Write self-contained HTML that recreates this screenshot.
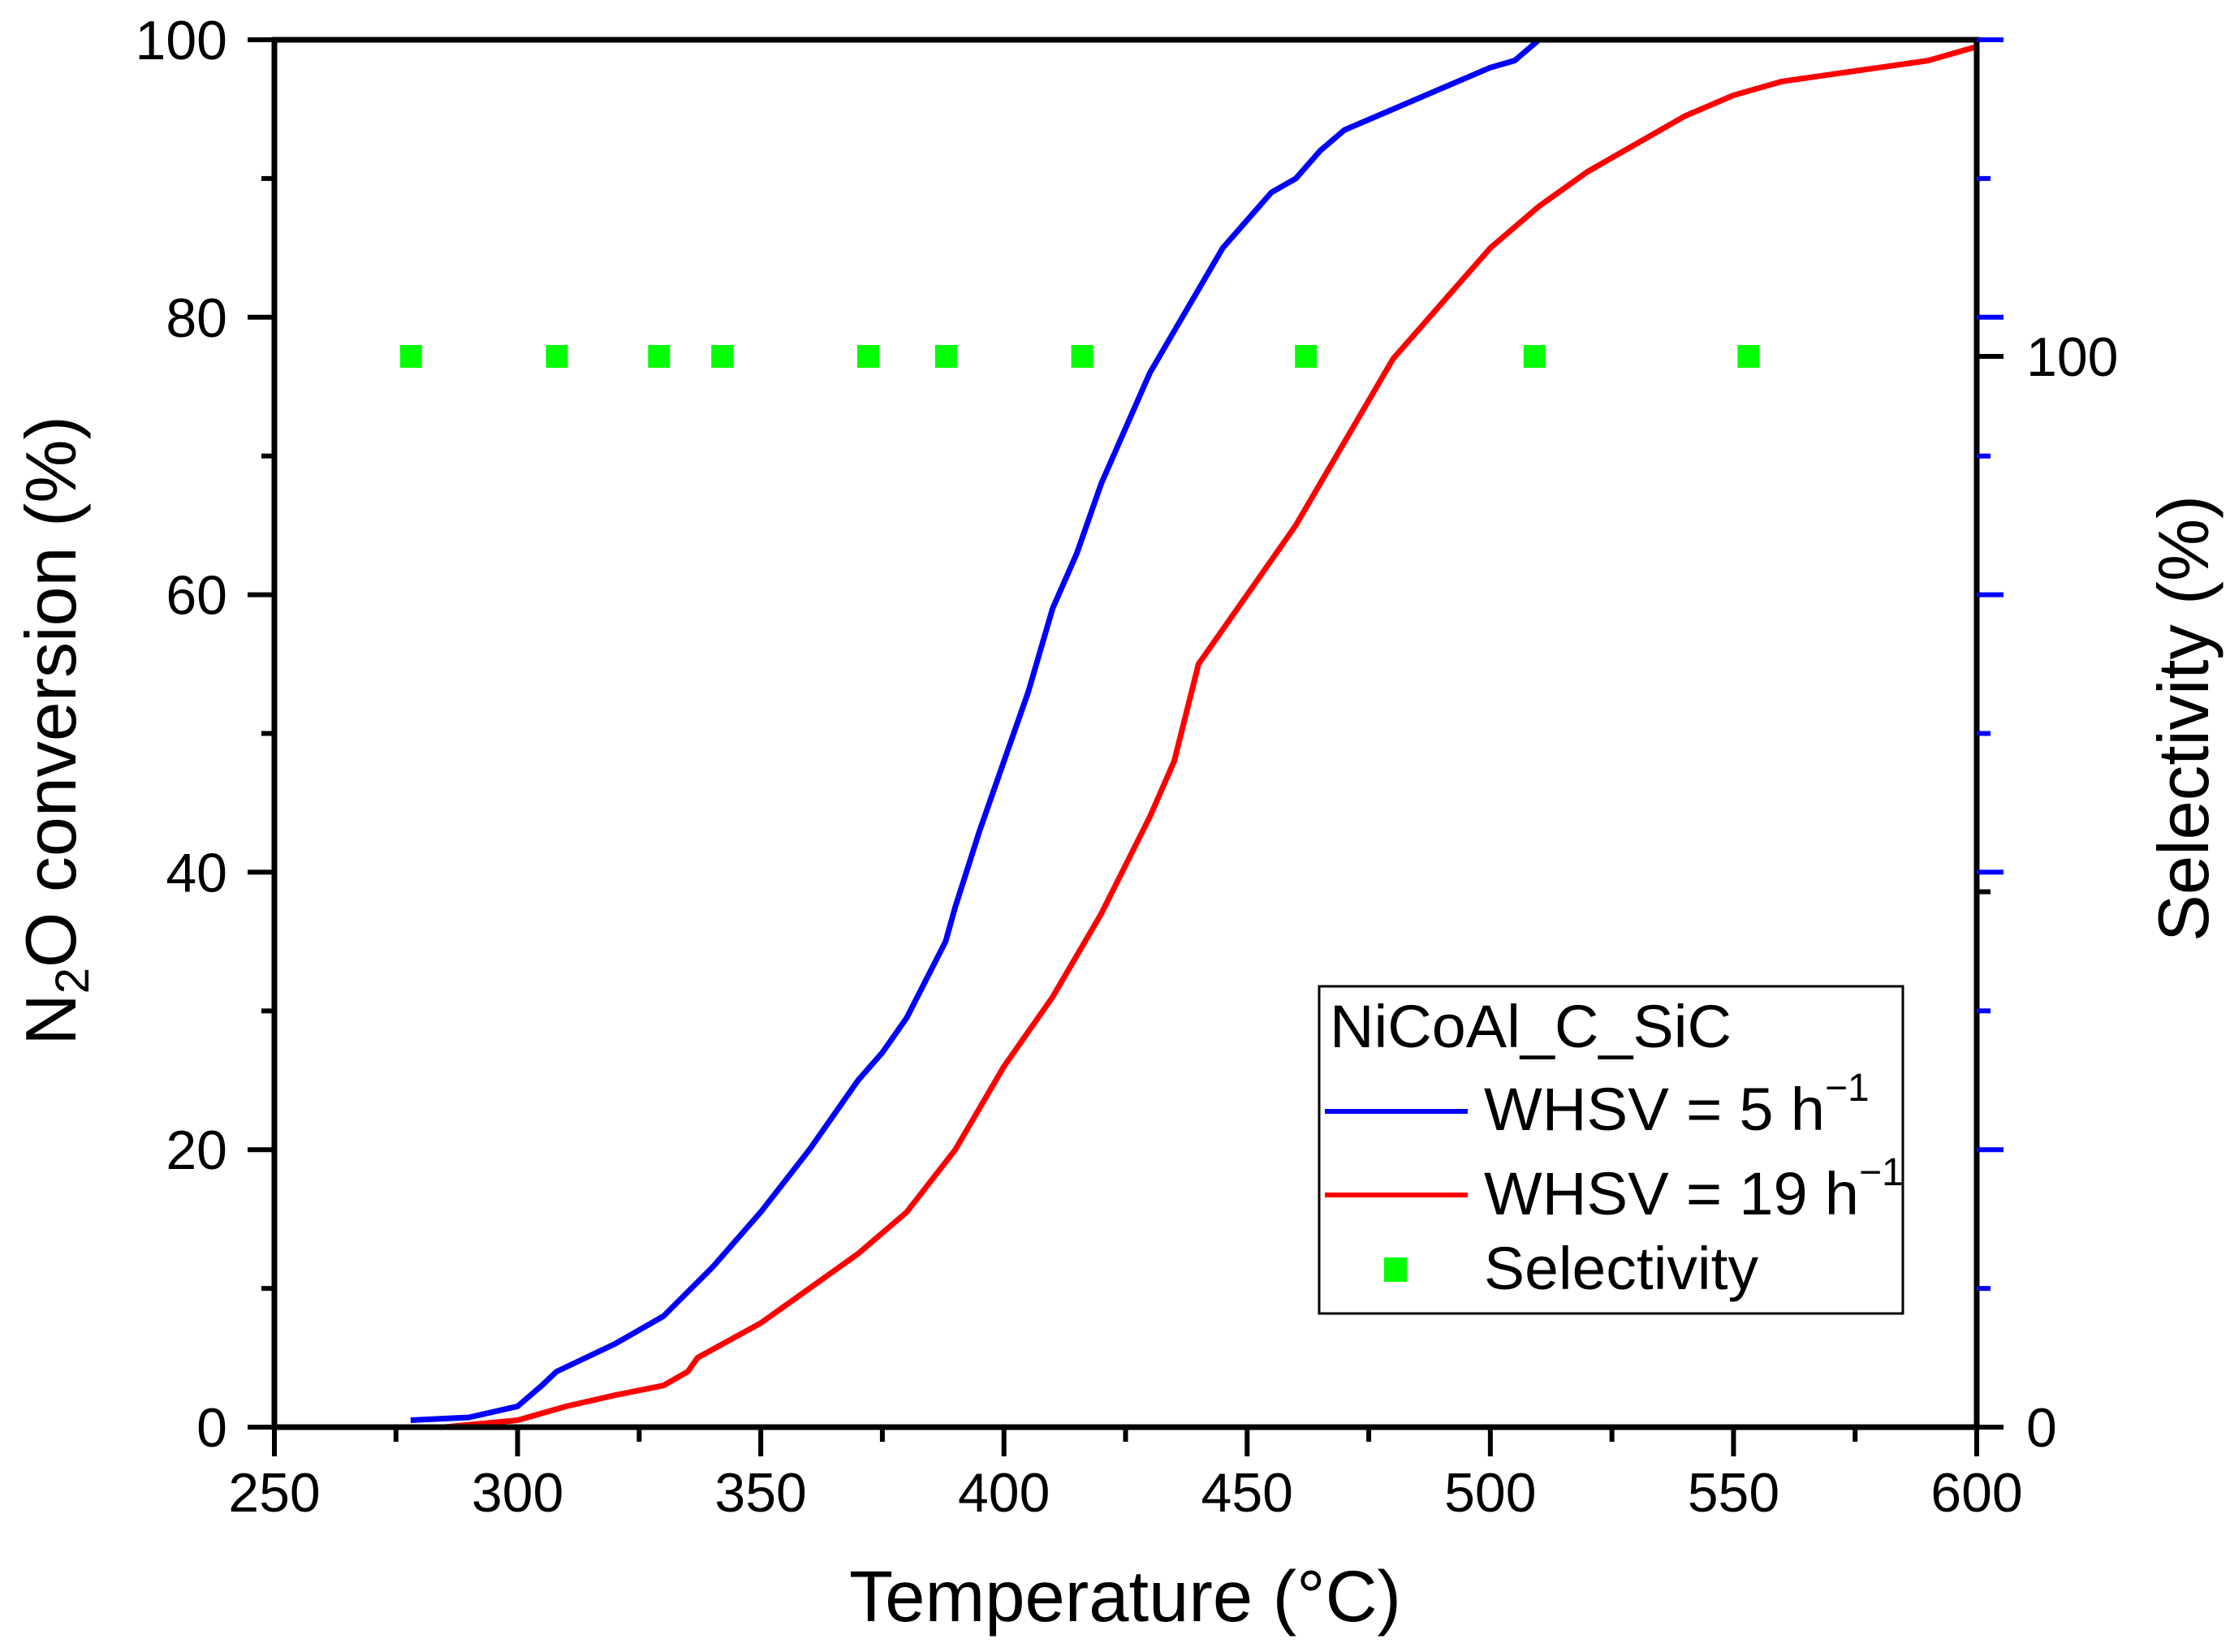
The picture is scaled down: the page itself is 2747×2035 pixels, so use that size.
<!DOCTYPE html>
<html><head><meta charset="utf-8"><style>
html,body{margin:0;padding:0;background:#fff;}
svg{display:block;font-family:"Liberation Sans",Arial,sans-serif;}
</style></head><body>
<svg id="chart" width="2747" height="2035" viewBox="0 0 2747 2035" xmlns="http://www.w3.org/2000/svg">
<g id="plot"></g>
<g id="axes"></g>
<g id="legend">
  <rect x="1625" y="1215" width="719" height="403" fill="#fff" stroke="#000" stroke-width="3"/>
  <text x="1638" y="1290" font-size="74" textLength="495" lengthAdjust="spacingAndGlyphs">NiCoAl_C_SiC</text>
  <line x1="1632" y1="1369" x2="1808" y2="1369" stroke="#0000ff" stroke-width="6"/>
  <text x="1828" y="1392" font-size="74"><tspan textLength="420" lengthAdjust="spacingAndGlyphs">WHSV = 5 h</tspan><tspan font-size="48" dy="-36">−1</tspan></text>
  <line x1="1632" y1="1472" x2="1808" y2="1472" stroke="#ff0000" stroke-width="6"/>
  <text x="1828" y="1496" font-size="74"><tspan textLength="462" lengthAdjust="spacingAndGlyphs">WHSV = 19 h</tspan><tspan font-size="48" dy="-36">−1</tspan></text>
  <rect x="1705" y="1549" width="28" height="30" fill="#00ff00"/>
  <text x="1828" y="1588" font-size="74" textLength="338" lengthAdjust="spacingAndGlyphs">Selectivity</text>
</g>
<text x="1386" y="1997" font-size="89" text-anchor="middle" textLength="680" lengthAdjust="spacingAndGlyphs">Temperature (°C)</text>
<text transform="translate(93,900) rotate(-90)" font-size="88" text-anchor="middle">N<tspan font-size="58" dy="16">2</tspan><tspan dy="-16">O conversion (%)</tspan></text>
<text transform="translate(2720,885) rotate(-90)" font-size="88" text-anchor="middle" textLength="550" lengthAdjust="spacingAndGlyphs">Selectivity (%)</text>
</svg>
<script>
const xTicks=[250,300,350,400,450,500,550,600];
const yTicks=[0,20,40,60,80,100];
const y2Ticks=[0,100];
const blueT=[278,290,300,305,308,320,330,340,350,360,370,375,380,388,390,395,400,405,410,415,420,425,430,435,440,445,450,455,460,465,470,480,490,500,505,510];
const blueV=[0.5,0.7,1.5,3,4,6,8,11.5,15.5,20,25,27,29.5,35,37.5,43,48,53,59,63,68,72,76,79,82,85,87,89,90,92,93.5,95,96.5,98,98.5,100];
const redT=[285,300,310,320,330,335,337,350,360,370,380,390,400,410,420,430,435,440,450,460,470,480,490,500,510,520,530,540,550,560,570,580,590,600];
const redV=[0,0.5,1.5,2.3,3,4,5,7.5,10,12.5,15.5,20,26,31,37,44,48,55,60,65,71,77,81,85,88,90.5,92.5,94.5,96,97,97.5,98,98.5,99.5];
const selT=[278,308,329,342,372,388,416,462,509,553];
const selV=[100,100,100,100,100,100,100,100,100,100];

const X0=338,X1=2435,Y0=1758,Y1=49,Y2_100=439;
const xs=t=>X0+(t-250)/350*(X1-X0);
const ys=v=>Y0-v/100*(Y0-Y1);
const ys2=v=>Y0-v/100*(Y0-Y2_100);
const NS="http://www.w3.org/2000/svg";
function mk(tag,parent,attrs){const e=document.createElementNS(NS,tag);for(const k in attrs)e.setAttribute(k,attrs[k]);parent.appendChild(e);return e;}
const plot=document.getElementById('plot'),axes=document.getElementById('axes');

function series(T,V,color,name){
  const p=mk('path',plot,{d:T.map((t,i)=>(i?'L':'M')+xs(t).toFixed(1)+','+ys(V[i]).toFixed(1)).join(''),fill:'none',stroke:color,'stroke-width':7,'stroke-linejoin':'round'});
  
  
}
series(blueT,blueV,'#0000ff','line-whsv-5');
series(redT,redV,'#ff0000','line-whsv-19');
selT.forEach((t,i)=>{
  const r=mk('rect',plot,{x:xs(t)-13,y:ys2(selV[i])-14,width:27,height:28,fill:'#00ff00'});
  
  
});

// frame
const fr=mk('path',axes,{d:`M${X0},${Y0}H${X1}V${Y1}H${X0}Z`,fill:'none',stroke:'#000','stroke-width':7});


// x ticks
for(let t=250;t<=600;t+=25){
  const major=t%50===0;
  const l=mk('line',axes,{x1:xs(t),x2:xs(t),y1:Y0,y2:Y0+(major?36:18),stroke:'#000','stroke-width':6});
  
  
}
xTicks.forEach(t=>{
  const tx=mk('text',axes,{x:xs(t),y:1862,'font-size':68,'text-anchor':'middle'});
  tx.textContent=t;
  
  
});
// y ticks
for(let v=0;v<=100;v+=10){
  const major=v%20===0;
  const l=mk('line',axes,{x1:X0,x2:X0-(major?33:16),y1:ys(v),y2:ys(v),stroke:'#000','stroke-width':6});
  
  
}
yTicks.forEach(v=>{
  const tx=mk('text',axes,{x:280,y:ys(v)+24,'font-size':68,'text-anchor':'end'});
  tx.textContent=v;
  
  
});
// right blue ticks
for(let i=0;i<10;i++){
  const y=Y1+i*(Y0-Y1)/10;
  const l=mk('line',axes,{x1:X1,x2:X1+(i%2===0?33:17),y1:y,y2:y,stroke:'#0000ff','stroke-width':6});
  
  
}
// right black ticks
[0,50,100].forEach(v=>{
  const l=mk('line',axes,{x1:X1,x2:X1+(v===50?17:33),y1:ys2(v),y2:ys2(v),stroke:'#000','stroke-width':6});
  
  
});
y2Ticks.forEach(v=>{
  const tx=mk('text',axes,{x:2496,y:ys2(v)+24,'font-size':68});
  tx.textContent=v;
  
  
});
</script>
</body></html>
